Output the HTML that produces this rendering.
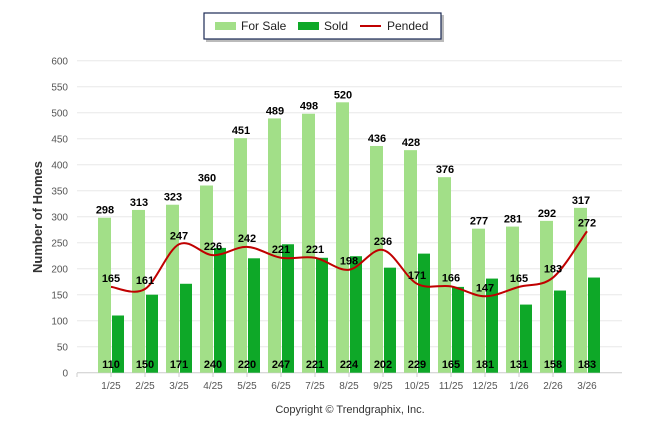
<!DOCTYPE html>
<html><head><meta charset="utf-8"><style>
body{margin:0;background:#fff;font-family:"Liberation Sans",sans-serif}
svg text{font-family:"Liberation Sans",sans-serif}
</style></head><body>
<svg id="c" width="646" height="434">
<g>
<rect x="206" y="15" width="238" height="27" fill="#bbb"/>
<rect x="204" y="13" width="237" height="26" fill="#fff" stroke="#1c2a55" stroke-width="1.2"/>
<rect x="215" y="22" width="21" height="8" fill="#a2df88"/>
<text x="241" y="30" font-size="12" fill="#222">For Sale</text>
<rect x="298" y="22" width="21" height="8" fill="#0ea828"/>
<text x="324" y="30" font-size="12" fill="#222">Sold</text>
<rect x="360" y="25" width="21" height="2" fill="#c00000"/>
<text x="387" y="30" font-size="12" fill="#222">Pended</text>
</g>
<g id="grid"></g><g id="bars"></g><g id="line"></g><g id="labels"></g>
<text transform="translate(42,217) rotate(-90)" text-anchor="middle" font-size="13" font-weight="bold" fill="#333">Number of Homes</text>
<text x="350" y="413" text-anchor="middle" font-size="11" fill="#333">Copyright © Trendgraphix, Inc.</text>
</svg>
<script>
const categories=["1/25","2/25","3/25","4/25","5/25","6/25","7/25","8/25","9/25","10/25","11/25","12/25","1/26","2/26","3/26"];
const forSale=[298,313,323,360,451,489,498,520,436,428,376,277,281,292,317];
const sold=[110,150,171,240,220,247,221,224,202,229,165,181,131,158,183];
const pended=[165,161,247,226,242,221,221,198,236,171,166,147,165,183,272];
const yTicks=[0,50,100,150,200,250,300,350,400,450,500,550,600];
const NS="http://www.w3.org/2000/svg";
const y=v=>372.7-v*0.52;
const xc=i=>111+i*34;
function mk(t,a,p){const e=document.createElementNS(NS,t);for(const k in a)e.setAttribute(k,a[k]);p.appendChild(e);return e;}
const grid=document.getElementById('grid'),bars=document.getElementById('bars'),line=document.getElementById('line'),labels=document.getElementById('labels');
yTicks.forEach(v=>{
 const l=mk('line',{x1:77,x2:622,y1:y(v),y2:y(v),stroke:v===0?'#ccc':'#e8e8e8','stroke-width':1},grid);
 
 const t=mk('text',{x:68,y:y(v)+4,'text-anchor':'end','font-size':10,fill:'#555'},grid);t.textContent=v;
 
});
categories.forEach((c,i)=>{
 const tk=mk('line',{x1:xc(i)-34,x2:xc(i)-34,y1:373,y2:377,stroke:'#ccc'},grid);
 
 const t=mk('text',{x:xc(i),y:389,'text-anchor':'middle','font-size':10,fill:'#555'},grid);t.textContent=c;
 
 const b1=mk('rect',{x:xc(i)-13,y:y(forSale[i]),width:13,height:y(0)-y(forSale[i]),fill:'#a2df88'},bars);
 
 const b2=mk('rect',{x:xc(i)+1,y:y(sold[i]),width:12,height:y(0)-y(sold[i]),fill:'#0ea828'},bars);
 
 const l1=mk('text',{x:xc(i)-6,y:y(forSale[i])-4,'text-anchor':'middle','font-size':11,'font-weight':'bold',fill:'#000'},labels);l1.textContent=forSale[i];
 
 const l2=mk('text',{x:xc(i),y:368,'text-anchor':'middle','font-size':11,'font-weight':'bold',fill:'#000'},labels);l2.textContent=sold[i];
 
 const l3=mk('text',{x:xc(i),y:y(pended[i])-5,'text-anchor':'middle','font-size':11,'font-weight':'bold',fill:'#000'},labels);l3.textContent=pended[i];
 
});
const P=pended.map((v,i)=>[xc(i),y(v)]);
let d='M'+P[0][0]+','+P[0][1];
for(let i=0;i<P.length-1;i++){
 const p0=P[i-1]||P[i],p1=P[i],p2=P[i+1],p3=P[i+2]||P[i+1];
 const c1=[p1[0]+(p2[0]-p0[0])/6,p1[1]+(p2[1]-p0[1])/6],c2=[p2[0]-(p3[0]-p1[0])/6,p2[1]-(p3[1]-p1[1])/6];
 d+=` C${c1[0]},${c1[1]} ${c2[0]},${c2[1]} ${p2[0]},${p2[1]}`;
}
const pl=mk('path',{d:d,fill:'none',stroke:'#c00000','stroke-width':2},line);

</script>
</body></html>
